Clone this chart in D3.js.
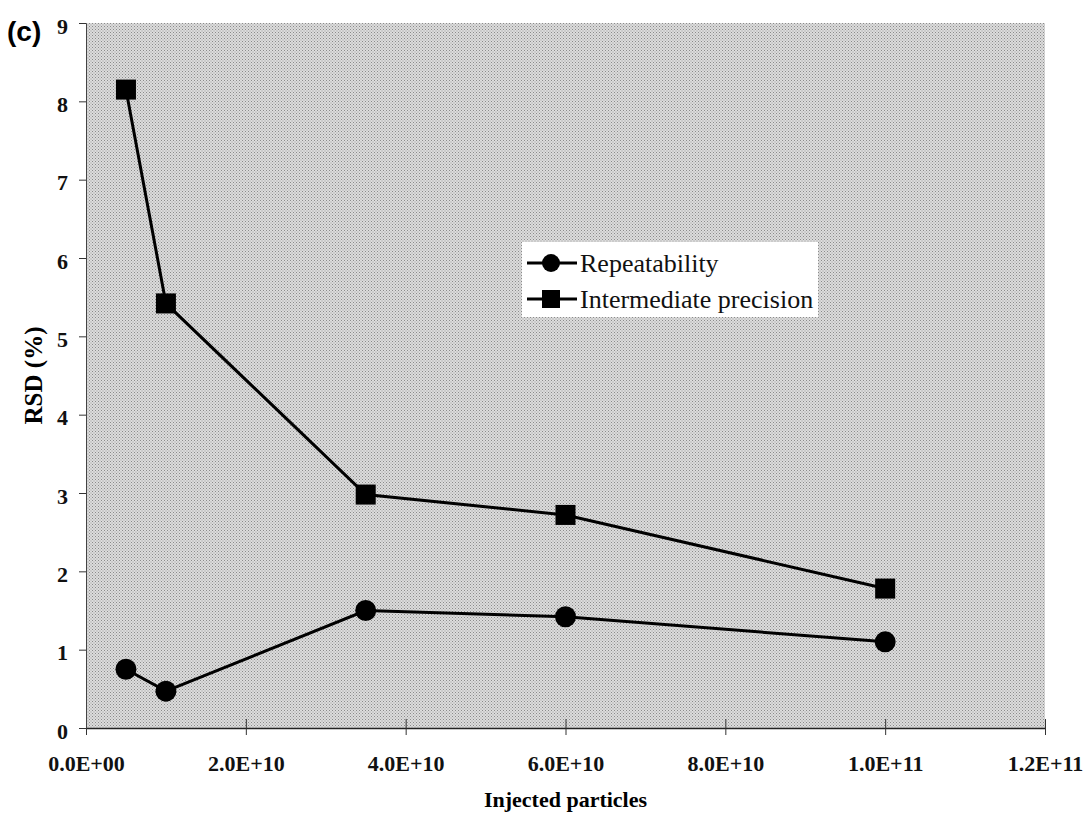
<!DOCTYPE html>
<html>
<head>
<meta charset="utf-8">
<script src="https://cdn.jsdelivr.net/npm/d3@7"></script>
<style>
  body { margin: 0; background: #fff; }
</style>
</head>
<body>
<div id="chart"></div>
<script>
// data
var particles = [5e9, 1e10, 3.5e10, 6e10, 1e11];
var repeatability = [0.75, 0.47, 1.50, 1.42, 1.10];
var intermediate = [8.15, 5.42, 2.98, 2.72, 1.78];
var xTicks = [0, 2e10, 4e10, 6e10, 8e10, 1e11, 1.2e11];
var yTicks = [0, 1, 2, 3, 4, 5, 6, 7, 8, 9];

var serif = "'Liberation Serif', 'Times New Roman', serif";
var W = 1084, H = 814;
var margin = {top: 23, right: 39, bottom: 86, left: 86};
var width = W - margin.left - margin.right,
    height = H - margin.top - margin.bottom;

var svg = d3.select("#chart").append("svg")
    .attr("width", W).attr("height", H);

// dotted grey plot background
var defs = svg.append("defs");
var pat = defs.append("pattern")
    .attr("id", "dots").attr("patternUnits", "userSpaceOnUse")
    .attr("width", 3).attr("height", 3);
pat.append("rect").attr("width", 3).attr("height", 3).attr("fill", "#dcdcdc");
pat.append("rect").attr("x", 0).attr("y", 0).attr("width", 1).attr("height", 1).attr("fill", "#8a8a8a");
pat.append("rect").attr("x", 1.5).attr("y", 1.5).attr("width", 1).attr("height", 1).attr("fill", "#9a9a9a");

var g = svg.append("g")
    .attr("transform", "translate(" + margin.left + "," + margin.top + ")");

var x = d3.scaleLinear().domain([0, 1.2e11]).range([0, width]);
var y = d3.scaleLinear().domain([0, 9]).range([height, 0]);

g.append("rect")
    .attr("width", width).attr("height", height)
    .attr("fill", "url(#dots)");

function fmtSci(v) {
  if (v === 0) return "0.0E+00";
  var e = Math.floor(Math.log10(v));
  var m = v / Math.pow(10, e);
  return m.toFixed(1) + "E+" + (e < 10 ? "0" + e : e);
}

// x axis
var xAxis = g.append("g")
    .attr("transform", "translate(0," + height + ")")
    .call(d3.axisBottom(x).tickValues(xTicks).tickFormat(fmtSci)
      .tickSizeInner(7).tickSizeOuter(0).tickPadding(20));
xAxis.select(".domain").attr("stroke", "#222").attr("stroke-width", 1.5);
xAxis.selectAll(".tick line").attr("y1", -9).attr("stroke", "#333");
xAxis.selectAll(".tick text")
    .style("font-size", "22px").style("font-weight", "bold").style("font-family", serif)
    .attr("fill", "#111");

// y axis
var yAxis = g.append("g")
    .call(d3.axisLeft(y).tickValues(yTicks).tickFormat(d3.format("d"))
      .tickSizeInner(7).tickSizeOuter(0).tickPadding(11));
yAxis.select(".domain").attr("stroke", "#444").attr("stroke-width", 1);
yAxis.selectAll(".tick line").attr("stroke", "#333");
yAxis.selectAll(".tick text")
    .style("font-size", "22px").style("font-weight", "bold").style("font-family", serif)
    .attr("fill", "#111").attr("y", 3);

var line = d3.line()
    .x(function(d, i) { return x(particles[i]); })
    .y(function(d) { return y(d); });

g.append("path").datum(intermediate)
    .attr("d", line).attr("fill", "none")
    .attr("stroke", "#000").attr("stroke-width", 3);
g.append("path").datum(repeatability)
    .attr("d", line).attr("fill", "none")
    .attr("stroke", "#000").attr("stroke-width", 3);

var sq = 20;
g.selectAll(".sq").data(intermediate).enter().append("rect")
    .attr("x", function(d, i) { return x(particles[i]) - sq / 2; })
    .attr("y", function(d) { return y(d) - sq / 2; })
    .attr("width", sq).attr("height", sq)
    .attr("fill", "#000");

g.selectAll(".ci").data(repeatability).enter().append("circle")
    .attr("cx", function(d, i) { return x(particles[i]); })
    .attr("cy", function(d) { return y(d); })
    .attr("r", 10.5)
    .attr("fill", "#000");

// legend
var lg = svg.append("g").attr("transform", "translate(522,242)");
lg.append("rect").attr("width", 296).attr("height", 75).attr("fill", "#fff");
var items = [
  {label: "Repeatability", shape: "circle", y: 21},
  {label: "Intermediate precision", shape: "square", y: 57}
];
items.forEach(function(it) {
  lg.append("line").attr("x1", 5).attr("x2", 55)
    .attr("y1", it.y).attr("y2", it.y)
    .attr("stroke", "#000").attr("stroke-width", 3);
  if (it.shape === "circle") {
    lg.append("circle").attr("cx", 29).attr("cy", it.y).attr("r", 9).attr("fill", "#000");
  } else {
    lg.append("rect").attr("x", 20).attr("y", it.y - 9)
      .attr("width", 18).attr("height", 18).attr("fill", "#000");
  }
  lg.append("text").attr("x", 58).attr("y", it.y + 9)
    .style("font-family", serif).style("font-size", "26px")
    .attr("fill", "#111").text(it.label);
});

// titles
svg.append("text")
    .attr("x", margin.left + width / 2).attr("y", 807)
    .attr("text-anchor", "middle")
    .style("font-family", serif).style("font-size", "22px").style("font-weight", "bold")
    .text("Injected particles");

svg.append("text")
    .attr("transform", "translate(42," + (margin.top + y(4.5)) + ") rotate(-90)")
    .attr("text-anchor", "middle")
    .style("font-family", serif).style("font-size", "25px").style("font-weight", "bold")
    .text("RSD (%)");

svg.append("text")
    .attr("x", 7).attr("y", 41)
    .style("font-family", "'Liberation Sans', Arial, sans-serif")
    .style("font-size", "28px").style("font-weight", "bold")
    .text("(c)");
</script>
</body>
</html>
